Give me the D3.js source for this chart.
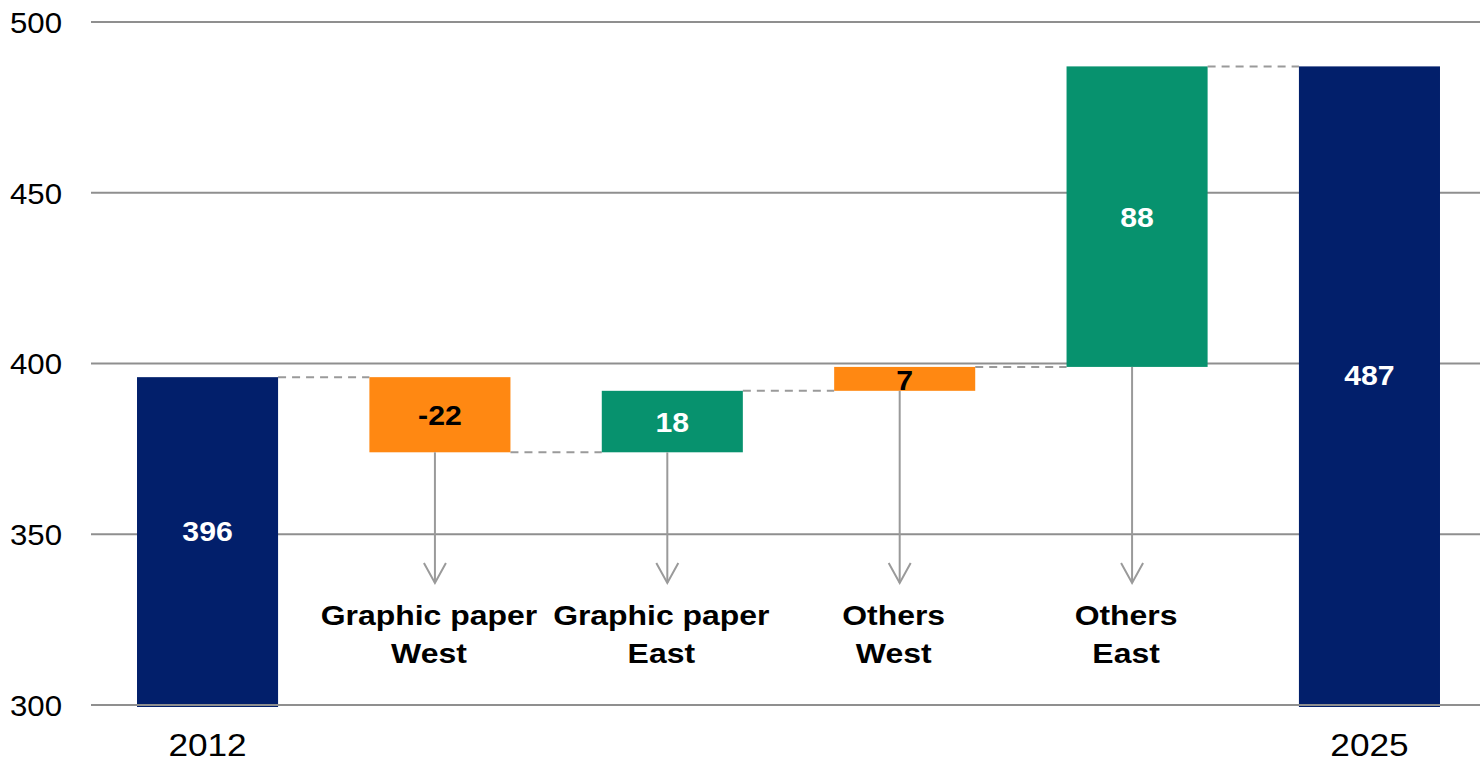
<!DOCTYPE html>
<html>
<head>
<meta charset="utf-8">
<script src="https://cdn.jsdelivr.net/npm/d3@7"></script>
<style>
  body { margin: 0; background: #fff; }
  svg { display: block; font-family: Arial, "Liberation Sans", sans-serif; }
</style>
</head>
<body>
<div class="chart"></div>
<script>
// Data
const categories = ['2012', 'Graphic paper West', 'Graphic paper East', 'Others West', 'Others East', '2025'];
const labelLines = [['2012'], ['Graphic paper', 'West'], ['Graphic paper', 'East'], ['Others', 'West'], ['Others', 'East'], ['2025']];
const values = [396, -22, 18, 7, 88, 487];
const kinds = ['total', 'west', 'east', 'west', 'east', 'total'];
const yTicks = [300, 350, 400, 450, 500];

const width = 1480;
const height = 764;
const stretch = 1.12; // text in the reference is a little wider than it is tall

const colors = {total: '#021f6b', west: '#ff8812', east: '#07926e'};
const textColors = {total: '#fff', west: '#000', east: '#fff'};

const svg = d3.select('.chart').append('svg')
    .attr('width', width)
    .attr('height', height);

const yScale = d3.scaleLinear()
    .domain([300, 500])
    .range([705, 22]);

const xScale = d3.scaleBand()
    .domain(categories)
    .range([91, 1486])
    .paddingInner(0.393)
    .paddingOuter(0.198);

// Build waterfall rows
let running = 0;
const rows = categories.map((c, i) => {
    let lo, hi;
    if (kinds[i] === 'total') {
        lo = yScale.domain()[0];
        hi = values[i];
        running = values[i];
    } else {
        const next = running + values[i];
        lo = Math.min(running, next);
        hi = Math.max(running, next);
        running = next;
    }
    return {cat: c, value: values[i], kind: kinds[i], lo, hi, end: running, lines: labelLines[i]};
});

// Gridlines
svg.append('g')
    .selectAll('line')
    .data(yTicks)
    .join('line')
        .attr('x1', 91)
        .attr('x2', width)
        .attr('y1', d => yScale(d))
        .attr('y2', d => yScale(d))
        .attr('stroke', '#8f8f8f')
        .attr('stroke-width', 2);

// Tick labels
svg.append('g')
    .selectAll('text')
    .data(yTicks)
    .join('text')
        .attr('transform', d => `translate(62, ${yScale(d)}) scale(1.04, 1)`)
        .attr('text-anchor', 'end')
        .attr('dy', '0.36em')
        .attr('font-size', 30)
        .attr('fill', '#000')
        .text(d => d);

// Connectors
svg.append('g')
    .selectAll('line')
    .data(rows.slice(0, -1))
    .join('line')
        .attr('x1', d => xScale(d.cat) + xScale.bandwidth())
        .attr('x2', (d, i) => xScale(rows[i + 1].cat))
        .attr('y1', d => yScale(d.end))
        .attr('y2', d => yScale(d.end))
        .attr('stroke', '#9a9a9a')
        .attr('stroke-width', 2)
        .attr('stroke-dasharray', '8,6');

// Bars
svg.append('g')
    .selectAll('rect')
    .data(rows)
    .join('rect')
        .attr('x', d => xScale(d.cat))
        .attr('y', d => yScale(d.hi))
        .attr('width', xScale.bandwidth())
        .attr('height', d => yScale(d.lo) - yScale(d.hi) + (d.kind === 'total' ? 2 : 0))
        .attr('fill', d => colors[d.kind]);

// Baseline drawn over bars
svg.append('line')
    .attr('x1', 91)
    .attr('x2', width)
    .attr('y1', yScale(300))
    .attr('y2', yScale(300))
    .attr('stroke', '#8f8f8f')
    .attr('stroke-width', 2);

// Value labels
svg.append('g')
    .selectAll('text')
    .data(rows)
    .join('text')
        .attr('transform', d => {
            const cx = xScale(d.cat) + xScale.bandwidth() / 2;
            const cy = (yScale(d.lo) + yScale(d.hi)) / 2 + (d.kind === 'total' ? -10 : 1);
            return `translate(${cx}, ${cy}) scale(${stretch}, 1)`;
        })
        .attr('text-anchor', 'middle')
        .attr('dy', '0.36em')
        .attr('font-size', 27)
        .attr('font-weight', 'bold')
        .attr('fill', d => textColors[d.kind])
        .text(d => d.value);

// Arrows from delta bars down to labels
const deltas = rows.filter(d => d.kind !== 'total');
const arrows = svg.append('g')
    .attr('stroke', '#9a9a9a')
    .attr('stroke-width', 2)
    .attr('fill', 'none');

arrows.selectAll('line')
    .data(deltas)
    .join('line')
        .attr('x1', d => xScale(d.cat) + xScale.bandwidth() / 2 - 5)
        .attr('x2', d => xScale(d.cat) + xScale.bandwidth() / 2 - 5)
        .attr('y1', d => yScale(d.lo))
        .attr('y2', 583);

arrows.selectAll('path')
    .data(deltas)
    .join('path')
        .attr('d', d => {
            const x = xScale(d.cat) + xScale.bandwidth() / 2 - 5;
            return `M${x - 11},563 L${x},583 L${x + 11},563`;
        });

// Category labels (bold, two lines) for deltas
svg.append('g')
    .selectAll('text')
    .data(deltas)
    .join('text')
        .attr('transform', d => `translate(${xScale(d.cat) + xScale.bandwidth() / 2 - 11}, 625) scale(1.14, 1)`)
        .attr('text-anchor', 'middle')
        .attr('font-size', 28)
        .attr('font-weight', 'bold')
        .attr('fill', '#000')
        .selectAll('tspan')
        .data(d => d.lines)
        .join('tspan')
            .attr('x', 0)
            .attr('y', (_, i) => i * 38)
            .text(t => t);

// Year labels under total bars
svg.append('g')
    .selectAll('text')
    .data(rows.filter(d => d.kind === 'total'))
    .join('text')
        .attr('transform', d => `translate(${xScale(d.cat) + xScale.bandwidth() / 2}, 756) scale(1.1, 1)`)
        .attr('text-anchor', 'middle')
        .attr('font-size', 32)
        .attr('fill', '#000')
        .text(d => d.cat);
</script>
</body>
</html>
